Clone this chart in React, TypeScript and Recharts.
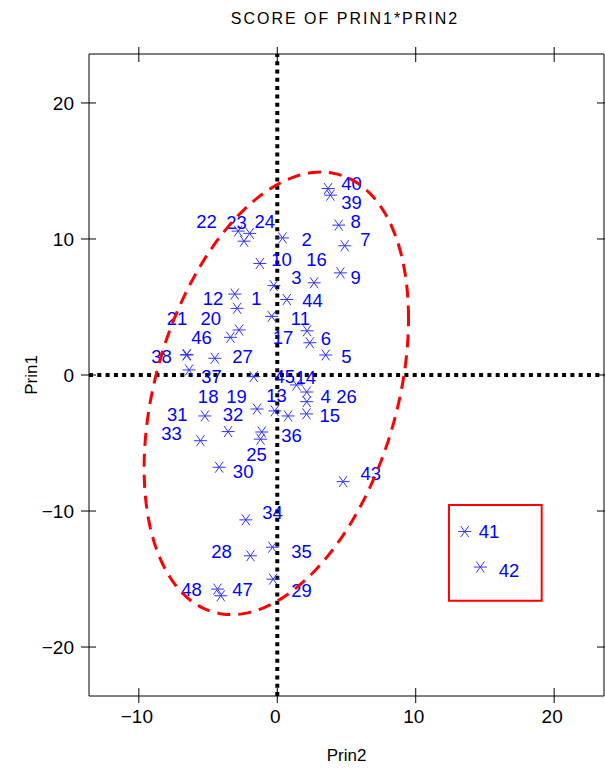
import { Label, ReferenceArea, ReferenceLine, Scatter, ScatterChart, XAxis, YAxis } from "recharts";

const FONT = '"Liberation Sans", Arial, Helvetica, sans-serif';

// observation numbers and their scores on the first two principal components
const obsIds = [
  1, 2, 3, 4, 5, 6, 7, 8, 9, 10, 11, 12, 13, 14, 15, 16, 17, 18, 19, 20, 21, 22, 23, 24,
  25, 26, 27, 28, 29, 30, 31, 32, 33, 34, 35, 36, 37, 38, 39, 40, 41, 42, 43, 44, 45, 46, 47, 48
];
const prin2 = [
  -3.07, 0.38, -0.25, 2.13, 3.5, 2.35, 4.87, 4.44, 4.56, -1.26, -0.4, -2.9, -0.18, 1.39, 2.11, 2.66,
  2.15, -3.55, -1.46, -2.76, -6.52, -2.83, -2.4, -1.99, -1.21, 2.13, -4.51, -1.94, -0.3, -4.2, -5.23, -1.12,
  -5.55, -2.27, -0.35, 0.78, -6.37, -6.56, 3.84, 3.67, 13.54, 14.67, 4.75, 0.69, -1.7, -3.38, -4.08, -4.32
];
const prin1 = [
  5.95, 10.08, 6.57, -1.25, 1.47, 2.37, 9.5, 11.02, 7.51, 8.2, 4.31, 4.9, -2.64, -0.73, -2.86, 6.78,
  3.25, -4.16, -2.5, 3.31, 1.5, 10.58, 9.84, 10.41, -4.72, -1.96, 1.23, -13.29, -15.01, -6.78, -3.01, -4.19,
  -4.83, -10.65, -12.66, -3.01, 0.37, 1.47, 13.22, 13.71, -11.51, -14.12, -7.84, 5.55, -0.12, 2.77, -16.23, -15.74
];

const xTicks = [-10, 0, 10, 20];
const yTicks = [-20, -10, 0, 10, 20];
const xDomain: [number, number] = [-13.6, 23.6];
const yDomain: [number, number] = [-23.6, 23.6];

// prediction ellipse: centre (prin2, prin1) and lower-triangular factor [a, c, d]
const ellipseCentre = [-0.07, -1.35];
const ellipseFactor = [9.55, 5.5, 15.31];

// outlier box around observations 41 and 42
const boxPrin2 = [12.4, 19.1];
const boxPrin1 = [-16.6, -9.55];

// where each observation number sits relative to its star (pixels)
const labelOffset: Record<number, [number, number]> = {
  1: [21.7, 4.3], 2: [24, 1.3], 3: [22.7, -8.2], 4: [19, 4], 5: [20.7, 1.7], 6: [16, -4.4],
  7: [20.7, -6.4], 8: [17, -3.3], 9: [15.3, 4.6], 10: [21.7, -4], 11: [28.7, 2], 12: [-24, -10],
  13: [1.7, -16], 14: [9.3, -7.7], 15: [23.3, 1], 16: [2.4, -23.4], 17: [-24, 6.6], 18: [-20, -35],
  19: [-20.6, -12.3], 20: [-28.3, -11.7], 21: [-9.9, -36.3], 22: [-31.6, -9.3], 23: [-7.6, -19.3],
  24: [15, -11.6], 25: [-4, 14.7], 26: [39.7, -5.7], 27: [27.7, -1.6], 28: [-29, -4.3], 29: [28.4, 10.7],
  30: [24, 4.4], 31: [-27.7, -2], 32: [-28.7, -18], 33: [-29, -7.4], 34: [26.7, -7.3], 35: [29, 4.4],
  36: [3.4, 19], 37: [22.4, 6.7], 38: [-25, 1.7], 39: [21, 6.7], 40: [23.4, -5.6], 41: [24.3, 0],
  42: [28.6, 3.7], 43: [27.7, -8.4], 44: [25.7, 0.5], 45: [31, 0], 46: [-29, 0], 47: [21.7, -6],
  48: [-26, 0.7]
};

const scores = obsIds.map((id, i) => ({ id, prin2: prin2[i], prin1: prin1[i] }));

const ellipse = Array.from({ length: 145 }, (_, k) => {
  const t = (k / 144) * Math.PI * 2;
  const [a, c, d] = ellipseFactor;
  return {
    prin2: ellipseCentre[0] + a * Math.cos(t),
    prin1: ellipseCentre[1] + c * Math.cos(t) + d * Math.sin(t)
  };
});

const fmt = (v: number) => (v < 0 ? `\u2212${Math.abs(v)}` : `${v}`);

function StarPoint(props: any) {
  const { cx, cy, payload } = props;
  if (cx == null || cy == null) return <g />;
  const [dx, dy] = labelOffset[payload.id] ?? [22, 0];
  return (
    <g>
      <g stroke="#3333ff" strokeWidth={1}>
        <line x1={cx - 6.5} y1={cy} x2={cx + 6.5} y2={cy} />
        <line x1={cx - 4} y1={cy - 5.5} x2={cx + 4} y2={cy + 5.5} />
        <line x1={cx + 4} y1={cy - 5.5} x2={cx - 4} y2={cy + 5.5} />
      </g>
      <text x={cx + dx} y={cy + dy} dy="0.36em" textAnchor="middle" fill="#0000ff" fontSize={18.5} fontFamily={FONT}>
        {payload.id}
      </text>
    </g>
  );
}

const BottomTick = ({ x, y, payload }: any) => (
  <g>
    <line x1={x} x2={x} y1={y - 8} y2={y + 7} stroke="#000" />
    <text x={x - 2} y={y + 27} textAnchor="middle" fontSize={19} fontFamily={FONT} fill="#000">
      {fmt(payload.value)}
    </text>
  </g>
);

const LeftTick = ({ x, y, payload }: any) => (
  <g>
    <line x1={x - 8} x2={x + 7} y1={y} y2={y} stroke="#000" />
    <text x={x - 15} y={y} dy="0.36em" textAnchor="end" fontSize={19} fontFamily={FONT} fill="#000">
      {fmt(payload.value)}
    </text>
  </g>
);

const TopTick = ({ x, y }: any) => <line x1={x} x2={x} y1={y - 7} y2={y + 8} stroke="#000" />;

const RightTick = ({ x, y }: any) => <line x1={x - 7} x2={x + 7} y1={y} y2={y} stroke="#000" />;

export default function App() {
  return (
    <div style={{ position: "absolute", left: 0, top: 0, width: 605, height: 771, background: "#fff" }}>
      <ScatterChart width={605} height={771} margin={{ top: 53, right: 0, bottom: 0, left: 0 }}>
        <XAxis
          type="number"
          dataKey="prin2"
          domain={xDomain}
          ticks={xTicks}
          height={75}
          tickSize={0}
          tickMargin={0}
          tickLine={false}
          tick={<BottomTick />}
          axisLine={{ stroke: "#000" }}
        >
          <Label value="Prin2" position="insideBottom" offset={10} fontSize={17} fontFamily={FONT} fill="#000" />
        </XAxis>
        <XAxis
          xAxisId="top"
          orientation="top"
          type="number"
          dataKey="prin2"
          domain={xDomain}
          ticks={xTicks}
          height={1}
          tickSize={0}
          tickMargin={0}
          tickLine={false}
          tick={<TopTick />}
          axisLine={{ stroke: "#000" }}
        />
        <YAxis
          type="number"
          dataKey="prin1"
          domain={yDomain}
          ticks={yTicks}
          width={89}
          tickSize={0}
          tickMargin={0}
          tickLine={false}
          tick={<LeftTick />}
          axisLine={{ stroke: "#000" }}
        >
          <Label value="Prin1" angle={-90} position="center" dx={-14} fontSize={17} fontFamily={FONT} fill="#000" />
        </YAxis>
        <YAxis
          yAxisId="right"
          orientation="right"
          type="number"
          dataKey="prin1"
          domain={yDomain}
          ticks={yTicks}
          width={1}
          tickSize={0}
          tickMargin={0}
          tickLine={false}
          tick={<RightTick />}
          axisLine={{ stroke: "#000" }}
        />
        {/* keeps the top and right frame axes bound to the same scores */}
        <Scatter data={scores} xAxisId="top" yAxisId="right" shape={() => <g />} isAnimationActive={false} />
        <Scatter data={scores} shape={<StarPoint />} isAnimationActive={false} />
        <ReferenceLine x={0} stroke="#000" strokeWidth={4} strokeDasharray="4 4.3" />
        <ReferenceLine y={0} stroke="#000" strokeWidth={4} strokeDasharray="4 4.3" />
        <Scatter
          data={ellipse}
          line={{ stroke: "#ff0000", strokeWidth: 3, strokeDasharray: "13 8" }}
          lineType="joint"
          shape={() => <g />}
          isAnimationActive={false}
        />
        <ReferenceArea
          x1={boxPrin2[0]}
          x2={boxPrin2[1]}
          y1={boxPrin1[0]}
          y2={boxPrin1[1]}
          fill="none"
          fillOpacity={0}
          stroke="#ff0000"
          strokeWidth={2}
        />
      </ScatterChart>
      <svg width={605} height={40} style={{ position: "absolute", left: 0, top: 0 }}>
        <text x={345} y={24} textAnchor="middle" fontSize={16} letterSpacing={2} fontFamily={FONT} fill="#000">
          SCORE OF PRIN1*PRIN2
        </text>
      </svg>
    </div>
  );
}
